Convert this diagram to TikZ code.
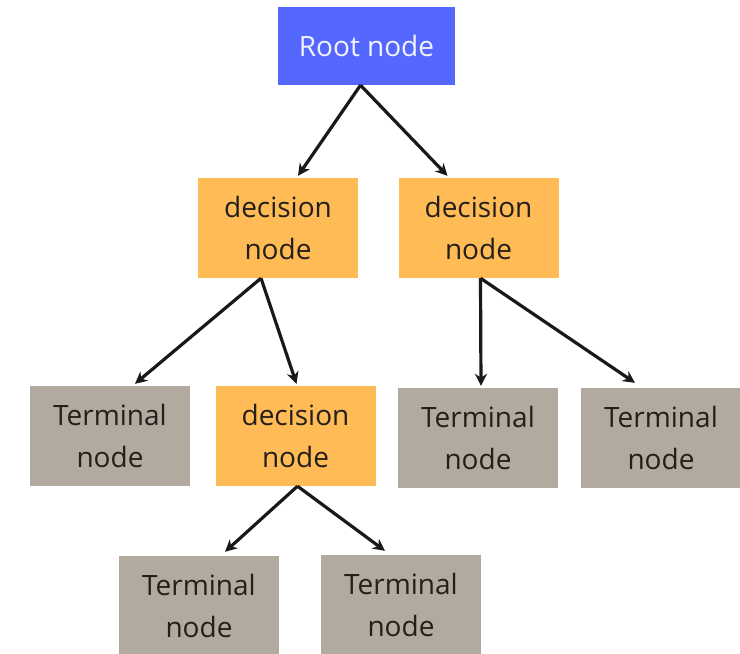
\documentclass[tikz,border=0pt]{standalone}
\usepackage{fontspec}
\setmainfont{Open Sans}
\usepackage{tikz}
\usetikzlibrary{arrows.meta}

\definecolor{rootblue}{HTML}{5468FF}
\definecolor{decorange}{HTML}{FFBB55}
\definecolor{termgray}{HTML}{B2A99F}
\definecolor{inkdark}{HTML}{241F1B}

\begin{document}
\begin{tikzpicture}[x=1pt,y=-1pt,
    every edge/.style={draw=black!90,line width=3.2pt,-{Stealth[length=12pt,width=12pt]}},
    base node/.style={rectangle,inner sep=0pt,align=center,text=inkdark,
      font=\fontsize{28}{42}\selectfont},
    root node/.style={base node,fill=rootblue,text=blue!5!white,minimum width=177pt,minimum height=78pt},
    dec node/.style={base node,fill=decorange,minimum width=160pt,minimum height=100pt},
    term node/.style={base node,fill=termgray,minimum width=160pt,minimum height=100pt}]

  \useasboundingbox (0,0) rectangle (740,654);

  \node[root node] (root)  at (366.5,46)  {Root node};
  \node[dec node]  (dec1)  at (278,228)   {decision\\node};
  \node[dec node]  (dec2)  at (478.5,228) {decision\\node};
  \node[term node] (term1) at (110,436)   {Terminal\\node};
  \node[dec node]  (dec3)  at (295.5,436) {decision\\node};
  \node[term node] (term2) at (478,438)   {Terminal\\node};
  \node[term node] (term3) at (661,438)   {Terminal\\node};
  \node[term node] (term4) at (199,606)   {Terminal\\node};
  \node[term node] (term5) at (401,605)   {Terminal\\node};

  % arrows leave each box from a point on its bottom edge
  \path ([xshift=-6pt]root.south)  edge ([xshift=20pt,yshift=2pt]dec1.north)
        ([xshift=-6pt]root.south)  edge ([xshift=-31pt,yshift=2pt]dec2.north)
        ([xshift=-17pt]dec1.south) edge ([xshift=25pt,yshift=2pt]term1.north)
        ([xshift=-17pt]dec1.south) edge ([xshift=1pt,yshift=2pt]dec3.north)
        ([xshift=2pt]dec2.south)   edge ([xshift=3pt,yshift=2pt]term2.north)
        ([xshift=2pt]dec2.south)   edge ([xshift=-26pt,yshift=5pt]term3.north)
        ([xshift=2pt]dec3.south)   edge ([xshift=26pt,yshift=4pt]term4.north)
        ([xshift=2pt]dec3.south)   edge ([xshift=-16pt,yshift=4pt]term5.north)
        ;

\end{tikzpicture}
\end{document}
